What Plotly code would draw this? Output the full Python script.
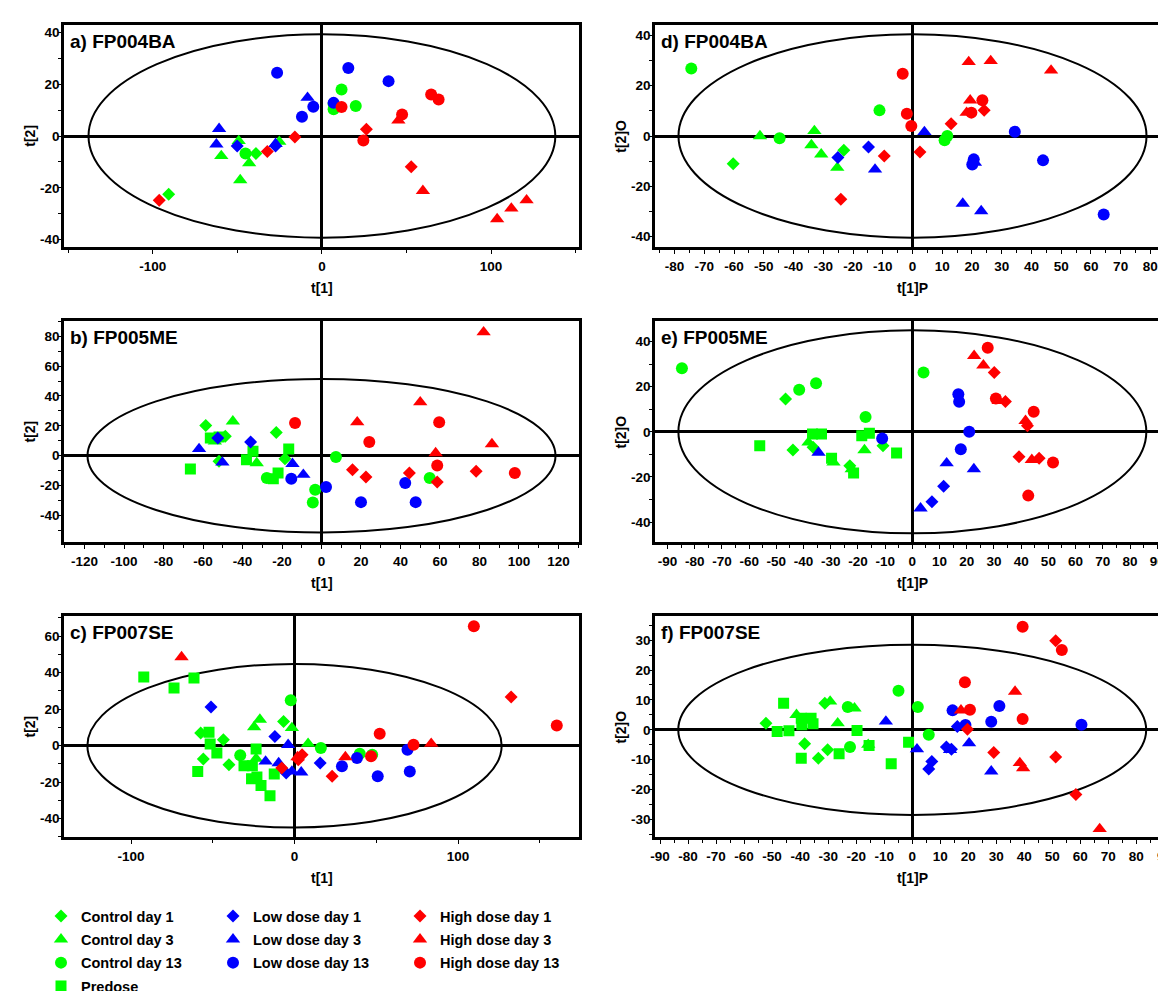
import numpy as np
import plotly.graph_objects as go

# ---------------- data ----------------
GROUP_NAMES = ["Control day 1", "Control day 3", "Control day 13", "Predose",
               "Low dose day 1", "Low dose day 3", "Low dose day 13",
               "High dose day 1", "High dose day 3", "High dose day 13"]

# a) FP004BA : t[1] vs t[2]
A_CTRL_D1 = [(-90.6, -22.5), (-39.0, -6.8)]
A_CTRL_D3 = [(-59.5, -7.7), (-43.0, -10.5), (-48.3, -17.0), (-25.2, -2.2), (-49.2, -1.9)]
A_CTRL_D13 = [(11.6, 18.0), (6.9, 12.5), (6.9, 10.3), (20.0, 11.6), (-45.2, -6.8)]
A_LOW_D1 = [(-50.1, -3.9), (-27.4, -3.9)]
A_LOW_D3 = [(-60.8, 2.8), (-62.4, -3.2), (-8.5, 14.8), (-27.4, -3.0)]
A_LOW_D13 = [(-26.5, 24.4), (15.6, 26.3), (39.4, 21.2), (-11.8, 7.4), (-5.1, 11.3), (6.9, 12.8)]
A_HIGH_D1 = [(-96.2, -24.8), (-32.3, -6.0), (-16.0, -0.4), (26.3, 2.6), (52.8, -11.9)]
A_HIGH_D3 = [(45.2, 6.0), (59.7, -21.2), (103.6, -32.1), (112.0, -28.0), (121.0, -24.8)]
A_HIGH_D13 = [(11.6, 11.2), (64.6, 16.0), (69.0, 14.1), (47.4, 8.3), (24.5, -1.7)]

# b) FP005ME : t[1] vs t[2]
B_CTRL_D1 = [(-58.6, 20.3), (-22.9, 15.6), (-48.7, 13.0), (-51.9, -3.8), (-18.5, -2.0)]
B_CTRL_D3 = [(-44.9, 23.0), (-54.0, 9.6), (-32.8, -4.9)]
B_CTRL_D13 = [(7.3, -0.9), (-27.7, -15.0), (-3.2, -22.8), (-4.4, -31.3), (54.8, -15.0)]
B_PREDOSE = [(-66.4, -8.9), (-56.3, 11.8), (-51.9, 12.5), (-34.7, 2.9), (-38.0, -2.7),
             (-16.6, 4.5), (-22.0, -11.6), (-24.4, -15.4)]
B_LOW_D1 = [(-35.9, 9.2), (-52.5, 11.8)]
B_LOW_D3 = [(-62.0, 4.5), (-50.2, -4.5), (-14.7, -5.4), (-9.2, -12.7)]
B_LOW_D13 = [(-15.3, -15.4), (2.3, -21.0), (20.0, -31.1), (42.4, -18.3), (47.7, -31.1)]
B_HIGH_D1 = [(15.7, -9.4), (22.5, -14.3), (44.5, -11.6), (58.6, -17.7), (78.3, -10.5)]
B_HIGH_D3 = [(82.1, 82.7), (50.0, 35.8), (18.1, 22.4), (86.3, 7.8), (57.8, 1.8)]
B_HIGH_D13 = [(-13.4, 21.9), (59.6, 22.4), (24.2, 9.2), (58.6, -6.5), (97.9, -11.6)]

# c) FP007SE : t[1] vs t[2]
C_CTRL_D1 = [(-57.4, 6.9), (-43.5, 3.3), (-6.7, 13.3), (-55.8, -7.3), (-40.1, -10.4)]
C_CTRL_D3 = [(-21.2, 14.3), (-24.7, 10.2), (-1.6, 9.7), (8.3, 1.1), (-23.5, -7.1)]
C_CTRL_D13 = [(-2.3, 24.9), (16.1, -1.3), (39.9, -4.4), (47.5, -4.9), (-33.2, -5.3)]
C_PREDOSE = [(-92.2, 37.7), (-61.5, 37.1), (-73.7, 31.6), (-52.3, 7.3), (-51.6, 0.9),
             (-47.5, -4.0), (-23.5, -1.8), (-30.9, -11.0), (-25.8, -11.0), (-59.2, -14.1),
             (-26.3, -18.1), (-23.0, -17.2), (-20.5, -21.8), (-15.0, -27.4), (-12.4, -15.5)]
C_LOW_D1 = [(-51.1, 21.2), (-12.0, 5.1), (15.7, -9.5), (-5.1, -15.0)]
C_LOW_D3 = [(-3.9, 0.5), (-17.7, -8.6), (-9.7, -9.5), (4.1, -14.6), (-1.6, -14.1)]
C_LOW_D13 = [(29.0, -11.3), (38.2, -6.8), (50.9, -16.8), (69.1, -2.2), (70.5, -14.1)]
C_HIGH_D1 = [(132.5, 26.7), (23.0, -16.8), (4.6, -4.9), (2.3, -7.7), (-7.8, -12.2)]
C_HIGH_D3 = [(-69.1, 48.6), (83.6, 1.1), (31.1, -6.2), (1.8, -6.2)]
C_HIGH_D13 = [(109.7, 65.4), (160.4, 11.0), (52.1, 6.6), (72.8, 0.5), (46.8, -5.8)]

# d) FP004BA : t[1]P vs t[2]O
D_CTRL_D1 = [(-60.3, -11.0), (-23.1, -5.7)]
D_CTRL_D3 = [(-51.3, 0.0), (-33.0, 2.0), (-34.0, -3.6), (-30.7, -7.3), (-25.3, -12.6)]
D_CTRL_D13 = [(-74.4, 26.9), (-11.1, 10.2), (-44.7, -0.9), (11.7, 0.0), (10.8, -1.7)]
D_LOW_D1 = [(-14.8, -4.4), (-25.1, -8.6)]
D_LOW_D3 = [(4.0, 1.6), (-12.6, -13.3), (16.9, -26.9), (23.1, -29.9), (21.0, -10.6)]
D_LOW_D13 = [(34.4, 1.7), (43.9, -9.7), (20.6, -9.3), (20.1, -11.3), (64.3, -31.2)]
D_HIGH_D1 = [(13.0, 4.9), (24.1, 10.2), (2.5, -6.4), (-9.5, -8.0), (-24.1, -25.2)]
D_HIGH_D3 = [(18.9, 29.5), (26.3, 29.9), (46.6, 26.1), (19.4, 14.2), (18.2, 9.3)]
D_HIGH_D13 = [(-3.3, 24.8), (-1.9, 8.9), (-0.4, 4.0), (23.5, 14.2), (19.8, 9.3)]

# e) FP005ME : t[1]P vs t[2]O
E_CTRL_D1 = [(-46.6, 14.5), (-43.9, -8.1), (-36.5, -6.9), (-23.0, -15.1), (-10.8, -6.2)]
E_CTRL_D3 = [(-38.2, -4.7), (-17.6, -8.1), (-29.0, -13.6), (-22.3, -16.5)]
E_CTRL_D13 = [(-84.7, 28.2), (-41.6, 18.6), (-35.4, 21.5), (4.1, 26.3), (-17.2, 6.6)]
E_PREDOSE = [(-56.1, -6.2), (-36.7, -1.0), (-33.4, -1.0), (-18.6, -1.8), (-15.8, -0.6),
             (-5.8, -9.4), (-29.7, -11.7), (-21.6, -18.3)]
E_LOW_D1 = [(7.2, -31.0), (11.5, -24.2)]
E_LOW_D3 = [(-34.5, -9.2), (12.6, -13.9), (22.6, -16.5), (3.0, -33.9)]
E_LOW_D13 = [(-11.1, -3.0), (16.9, 16.7), (17.2, 13.3), (20.9, 0.0), (17.8, -7.7)]
E_HIGH_D1 = [(30.1, 26.3), (34.2, 13.4), (42.3, 2.7), (39.2, -11.1), (46.6, -11.7)]
E_HIGH_D3 = [(22.7, 33.7), (26.1, 29.5), (31.7, 13.7), (41.6, 4.9), (43.9, -12.4)]
E_HIGH_D13 = [(27.7, 37.3), (30.7, 14.8), (44.6, 8.9), (51.7, -13.6), (42.6, -28.3)]

# f) FP007SE : t[1]P vs t[2]O
F_CTRL_D1 = [(-52.2, 2.2), (-38.4, -4.7), (-31.2, 8.9), (-30.2, -6.7), (-33.5, -9.5)]
F_CTRL_D3 = [(-41.3, 5.0), (-29.3, 9.5), (-26.6, 2.2), (-20.6, 7.2), (-15.7, -5.0)]
F_CTRL_D13 = [(-4.9, 13.1), (2.0, 7.6), (5.9, -1.7), (-23.0, 7.6), (-22.2, -5.8)]
F_PREDOSE = [(-45.9, 8.9), (-48.2, -0.6), (-44.0, -0.3), (-39.6, 3.9), (-36.1, 3.9),
             (-35.4, 2.0), (-39.4, 1.7), (-19.7, -0.2), (-15.4, -5.3), (-1.3, -4.2),
             (-7.5, -11.4), (-39.6, -9.5), (-26.1, -8.0)]
F_LOW_D1 = [(16.1, 1.1), (12.2, -5.8), (14.0, -6.5), (7.0, -10.6), (5.9, -13.1)]
F_LOW_D3 = [(-9.4, 2.8), (1.7, -6.5), (20.3, -4.5), (28.2, -13.9), (13.5, -6.7)]
F_LOW_D13 = [(14.4, 6.5), (31.1, 8.0), (28.2, 2.7), (60.4, 1.7), (19.0, 1.6)]
F_HIGH_D1 = [(51.2, 29.8), (58.4, -21.7), (51.2, -9.1), (29.1, -7.6), (19.7, 0.2)]
F_HIGH_D3 = [(36.7, 12.8), (66.9, -33.2), (38.4, -11.1), (39.6, -12.8), (17.4, 6.5)]
F_HIGH_D13 = [(39.4, 34.5), (53.4, 26.7), (18.8, 15.9), (20.6, 6.7), (39.4, 3.6)]

# Hotelling T2 ellipse semi-axes (x, y) per panel
ELLIPSE_A = (138.0, 39.3)
ELLIPSE_B = (118.5, 51.4)
ELLIPSE_C = (126.7, 44.8)
ELLIPSE_D = (78.7, 40.5)
ELLIPSE_E = (86.0, 45.0)
ELLIPSE_F = (83.5, 28.5)

# tick labels
A_XTICKS = [-100, 0, 100]
B_XTICKS = list(range(-120, 121, 20))
C_XTICKS = [-100, 0, 100]
D_XTICKS = list(range(-80, 81, 10))
E_XTICKS = list(range(-90, 91, 10))
F_XTICKS = list(range(-90, 91, 10))
A_YTICKS = [-40, -20, 0, 20, 40]
B_YTICKS = [-40, -20, 0, 20, 40, 60, 80]
C_YTICKS = [-40, -20, 0, 20, 40, 60]
D_YTICKS = [-40, -20, 0, 20, 40]
E_YTICKS = [-40, -20, 0, 20, 40]
F_YTICKS = [-30, -20, -10, 0, 10, 20, 30]

# ---------------- styles ----------------
GREEN, BLUE, RED = "#00ff00", "#0000ff", "#ff0000"
STYLE = {
    "Control day 1": ("diamond", GREEN, 10),
    "Control day 3": ("triangle-up", GREEN, 12.5),
    "Control day 13": ("circle", GREEN, 12),
    "Predose": ("square", GREEN, 11),
    "Low dose day 1": ("diamond", BLUE, 10),
    "Low dose day 3": ("triangle-up", BLUE, 12.5),
    "Low dose day 13": ("circle", BLUE, 12),
    "High dose day 1": ("diamond", RED, 10),
    "High dose day 3": ("triangle-up", RED, 12.5),
    "High dose day 13": ("circle", RED, 12),
}
LEGEND_OF = {g: ("legend" if g.startswith("Control") or g == "Predose"
                 else "legend2" if g.startswith("Low") else "legend3")
             for g in GROUP_NAMES}
DRAW_ORDER = ["Predose", "Control day 1", "Control day 3", "Control day 13",
              "Low dose day 1", "Low dose day 3", "Low dose day 13",
              "High dose day 1", "High dose day 3", "High dose day 13"]

W, H = 1166, 991
LEFT_COL = (56, 571)
RIGHT_COL = (647, 1162)
ROWS = [(16.7, 239.3), (313.3, 534.3), (608.3, 829.3)]

PANELS = [
    dict(label="a) FP004BA", col=LEFT_COL, row=ROWS[0], xt="t[1]", yt="t[2]",
         xr=[-152.5, 152], yr=[-43, 43], xticks=A_XTICKS, yticks=A_YTICKS, xminor=50, yminor=10,
         ell=ELLIPSE_A,
         data={"Control day 1": A_CTRL_D1, "Control day 3": A_CTRL_D3, "Control day 13": A_CTRL_D13,
               "Low dose day 1": A_LOW_D1, "Low dose day 3": A_LOW_D3, "Low dose day 13": A_LOW_D13,
               "High dose day 1": A_HIGH_D1, "High dose day 3": A_HIGH_D3, "High dose day 13": A_HIGH_D13}),
    dict(label="d) FP004BA", col=RIGHT_COL, row=ROWS[0], xt="t[1]P", yt="t[2]O",
         xr=[-86.6, 86.6], yr=[-44.3, 44.3], xticks=D_XTICKS, yticks=D_YTICKS, xminor=5, yminor=10,
         ell=ELLIPSE_D,
         data={"Control day 1": D_CTRL_D1, "Control day 3": D_CTRL_D3, "Control day 13": D_CTRL_D13,
               "Low dose day 1": D_LOW_D1, "Low dose day 3": D_LOW_D3, "Low dose day 13": D_LOW_D13,
               "High dose day 1": D_HIGH_D1, "High dose day 3": D_HIGH_D3, "High dose day 13": D_HIGH_D13}),
    dict(label="b) FP005ME", col=LEFT_COL, row=ROWS[1], xt="t[1]", yt="t[2]",
         xr=[-130.4, 130.4], yr=[-58, 90], xticks=B_XTICKS, yticks=B_YTICKS, xminor=10, yminor=10,
         ell=ELLIPSE_B, legend=True,
         data={"Control day 1": B_CTRL_D1, "Control day 3": B_CTRL_D3, "Control day 13": B_CTRL_D13,
               "Predose": B_PREDOSE,
               "Low dose day 1": B_LOW_D1, "Low dose day 3": B_LOW_D3, "Low dose day 13": B_LOW_D13,
               "High dose day 1": B_HIGH_D1, "High dose day 3": B_HIGH_D3, "High dose day 13": B_HIGH_D13}),
    dict(label="e) FP005ME", col=RIGHT_COL, row=ROWS[1], xt="t[1]P", yt="t[2]O",
         xr=[-94.6, 94.7], yr=[-49, 49], xticks=E_XTICKS, yticks=E_YTICKS, xminor=5, yminor=10,
         ell=ELLIPSE_E,
         data={"Control day 1": E_CTRL_D1, "Control day 3": E_CTRL_D3, "Control day 13": E_CTRL_D13,
               "Predose": E_PREDOSE,
               "Low dose day 1": E_LOW_D1, "Low dose day 3": E_LOW_D3, "Low dose day 13": E_LOW_D13,
               "High dose day 1": E_HIGH_D1, "High dose day 3": E_HIGH_D3, "High dose day 13": E_HIGH_D13}),
    dict(label="c) FP007SE", col=LEFT_COL, row=ROWS[2], xt="t[1]", yt="t[2]",
         xr=[-141, 174], yr=[-50.2, 70.9], xticks=C_XTICKS, yticks=C_YTICKS, xminor=50, yminor=10,
         ell=ELLIPSE_C,
         data={"Control day 1": C_CTRL_D1, "Control day 3": C_CTRL_D3, "Control day 13": C_CTRL_D13,
               "Predose": C_PREDOSE,
               "Low dose day 1": C_LOW_D1, "Low dose day 3": C_LOW_D3, "Low dose day 13": C_LOW_D13,
               "High dose day 1": C_HIGH_D1, "High dose day 3": C_HIGH_D3, "High dose day 13": C_HIGH_D13}),
    dict(label="f) FP007SE", col=RIGHT_COL, row=ROWS[2], xt="t[1]P", yt="t[2]O",
         xr=[-91.8, 92], yr=[-36, 38], xticks=F_XTICKS, yticks=F_YTICKS, xminor=5, yminor=5,
         ell=ELLIPSE_F,
         data={"Control day 1": F_CTRL_D1, "Control day 3": F_CTRL_D3, "Control day 13": F_CTRL_D13,
               "Predose": F_PREDOSE,
               "Low dose day 1": F_LOW_D1, "Low dose day 3": F_LOW_D3, "Low dose day 13": F_LOW_D13,
               "High dose day 1": F_HIGH_D1, "High dose day 3": F_HIGH_D3, "High dose day 13": F_HIGH_D13}),
]

FONT = "Liberation Sans, Arial, sans-serif"
fig = go.Figure()
layout = dict(
    width=W, height=H, margin=dict(l=0, r=0, t=0, b=0, autoexpand=False),
    paper_bgcolor="white", plot_bgcolor="white",
    font=dict(family=FONT, size=13, color="black", weight="bold"),
    showlegend=True, shapes=[], annotations=[],
)


def minor_vals(rng, step):
    lo = np.ceil(rng[0] / step) * step
    return [float(v) for v in np.arange(lo, rng[1] + 1e-9, step)]


TITLE_FONT = dict(size=14, family=FONT, color="black", weight="bold")

for i, p in enumerate(PANELS):
    k = "" if i == 0 else str(i + 1)
    xa, ya = "x" + k, "y" + k
    for g in DRAW_ORDER:
        if g not in p["data"]:
            continue
        pts = p["data"][g]
        sym, col, sz = STYLE[g]
        fig.add_trace(go.Scatter(
            x=[q[0] for q in pts], y=[q[1] for q in pts], mode="markers", name=g,
            xaxis=xa, yaxis=ya,
            marker=dict(symbol=sym, color=col, size=sz, line=dict(width=0)),
            showlegend=bool(p.get("legend")), legend=LEGEND_OF[g],
            legendrank=GROUP_NAMES.index(g) + 1, legendgroup=g,
            hoverinfo="skip"))
    x0, x1 = p["col"]
    y0, y1 = p["row"]
    axcommon = dict(showline=True, mirror=True, linewidth=2.5, linecolor="black",
                    showgrid=False, zeroline=True, zerolinewidth=2.6, zerolinecolor="black",
                    ticks="outside", tickwidth=1, tickcolor="black", automargin=False,
                    tickfont=dict(size=13.5, family=FONT, color="black", weight="bold"),
                    fixedrange=True)
    layout["xaxis" + k] = dict(
        axcommon, domain=[x0 / W, x1 / W], range=p["xr"], anchor=ya, ticklen=4,
        ticklabelstandoff=1,
        tickmode="array", tickvals=p["xticks"], ticktext=[f"{v:g}" for v in p["xticks"]],
        minor=dict(tickmode="array", tickvals=minor_vals(p["xr"], p["xminor"]),
                   ticks="outside", ticklen=3, tickcolor="black"))
    layout["yaxis" + k] = dict(
        axcommon, domain=[1 - y1 / H, 1 - y0 / H], range=p["yr"], anchor=xa, ticklen=3,
        ticklabelstandoff=-4,
        tickmode="array", tickvals=p["yticks"], ticktext=[f"{v:g}" for v in p["yticks"]],
        minor=dict(tickmode="array", tickvals=minor_vals(p["yr"], p["yminor"]),
                   ticks="outside", ticklen=3, tickcolor="black"))
    ex, ey = p["ell"]
    layout["shapes"].append(dict(type="circle", xref=xa, yref=ya, x0=-ex, x1=ex, y0=-ey, y1=ey,
                                 line=dict(color="black", width=2), layer="below"))
    # panel label
    layout["annotations"].append(dict(
        text=p["label"], xref="paper", yref="paper", x=(x0 + 3.5) / W, y=1 - (y0 + 4) / H,
        xanchor="left", yanchor="top", showarrow=False,
        font=dict(size=19, family=FONT, color="black", weight="bold")))
    # axis titles
    layout["annotations"].append(dict(
        text=p["xt"], xref="paper", yref="paper", x=(x0 + x1) / 2 / W, y=1 - (y1 + 40.7) / H,
        xanchor="center", yanchor="middle", showarrow=False, font=TITLE_FONT))
    layout["annotations"].append(dict(
        text=p["yt"], xref="paper", yref="paper", x=(x0 - 34.3) / W, y=1 - (y0 + y1) / 2 / H,
        xanchor="center", yanchor="middle", textangle=-90, showarrow=False, font=TITLE_FONT))

legend_common = dict(orientation="v", xanchor="left", yanchor="top", bgcolor="rgba(0,0,0,0)",
                     font=dict(size=14.5, family=FONT, color="black", weight="bold"),
                     tracegroupgap=1.5, itemclick=False, itemdoubleclick=False)
layout["legend"] = dict(legend_common, x=33 / W, y=1 - 892 / H)
layout["legend2"] = dict(legend_common, x=205 / W, y=1 - 892 / H)
layout["legend3"] = dict(legend_common, x=392 / W, y=1 - 892 / H)

fig.update_layout(**layout)
fig.write_html("out.html", config={"displayModeBar": False})
